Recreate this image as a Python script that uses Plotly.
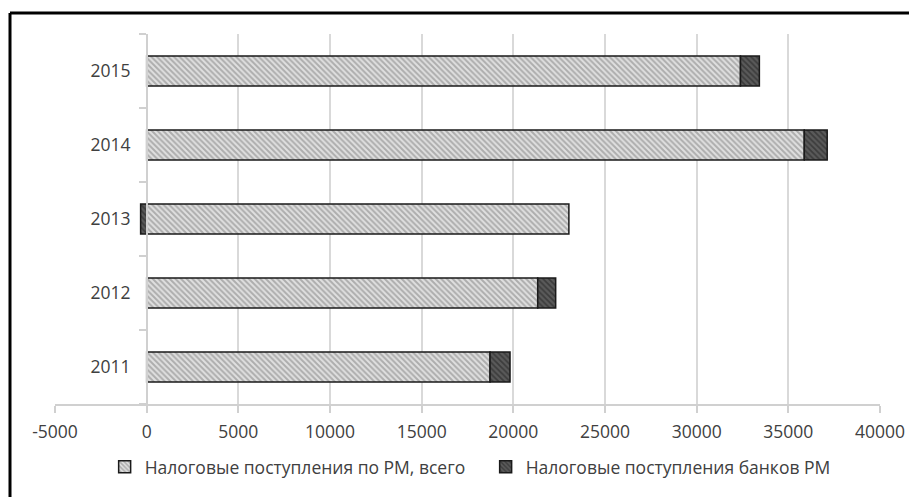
import plotly.graph_objects as go

years = ["2011", "2012", "2013", "2014", "2015"]
total_tax = [18730, 21330, 23030, 35870, 32390]
bank_tax = [1090, 980, -330, 1250, 1030]

x_tick_values = [-5000, 0, 5000, 10000, 15000, 20000, 25000, 30000, 35000, 40000]
x_tick_labels = ["-5000", "0", "5000", "10000", "15000", "20000", "25000", "30000", "35000", "40000"]

name_total = "Налоговые поступления по РМ, всего"
name_bank = "Налоговые поступления банков РМ"

# the page body has an 8px default margin, so the figure is a bit smaller
W, H = 909, 489
ml, mr, mt, mb = 47, 37, 26, 93
pw, ph = W - ml - mr, H - mt - mb

xmin, xmax = -5000, 40000

fig = go.Figure()
fig.add_trace(go.Bar(
    y=years, x=total_tax, orientation="h", name=name_total,
    marker=dict(color="#d0d0d0",
                line=dict(color="#1a1a1a", width=1.5),
                pattern=dict(shape="\\", bgcolor="#e0e0e0", fgcolor="#7a7a7a",
                             size=4, solidity=0.5, fillmode="overlay")),
))
fig.add_trace(go.Bar(
    y=years, x=bank_tax, orientation="h", name=name_bank,
    marker=dict(color="#404040",
                line=dict(color="#1a1a1a", width=1.5),
                pattern=dict(shape="\\", bgcolor="#5a5a5a", fgcolor="#1e1e1e",
                             size=4, solidity=0.45, fillmode="overlay")),
))

font_family = "Open Sans, Lato, sans-serif"
fig.update_layout(
    width=W, height=H,
    margin=dict(l=ml, r=mr, t=mt, b=mb, autoexpand=False),
    barmode="relative",
    bargap=0.595,
    plot_bgcolor="white", paper_bgcolor="white",
    font=dict(family=font_family, size=17.5, color="#404040"),
    showlegend=True,
    legend=dict(orientation="h", x=0.522, xanchor="center", y=-0.17, yanchor="middle",
                font=dict(size=17.5, color="#404040"), traceorder="normal",
                itemwidth=30, entrywidth=336, entrywidthmode="pixels",
                bgcolor="rgba(0,0,0,0)"),
    xaxis=dict(range=[xmin, xmax], tickmode="array",
               tickvals=x_tick_values, ticktext=x_tick_labels,
               showgrid=True, gridcolor="#d9d9d9", gridwidth=1.5,
               zeroline=False, showline=True, linecolor="#d0d0d0", linewidth=1.5,
               ticks="outside", ticklen=7, tickcolor="#d0d0d0", tickwidth=1.5,
               ticklabelstandoff=4,
               tickfont=dict(size=17.5, color="#404040"), fixedrange=True),
    yaxis=dict(anchor="free", position=(0 - xmin) / (xmax - xmin),
               showline=True, linecolor="#d0d0d0", linewidth=1.5,
               ticks="outside", tickson="boundaries", ticklen=7,
               tickcolor="#d0d0d0", tickwidth=1.5,
               showgrid=False, tickfont=dict(size=17.5, color="#404040"),
               ticklabelstandoff=12, fixedrange=True),
    shapes=[
        dict(type="line", xref="paper", yref="paper",
             x0=(2 - ml) / pw, x1=(W + 60 - ml) / pw,
             y0=1 + (mt - 5) / ph, y1=1 + (mt - 5) / ph,
             line=dict(color="black", width=3), layer="above"),
        dict(type="line", xref="paper", yref="paper",
             x0=(2 - ml) / pw, x1=(2 - ml) / pw,
             y0=1 + (mt - 5) / ph, y1=-(H + 60 - mt - ph) / ph,
             line=dict(color="black", width=3), layer="above"),
    ],
)

fig.write_html("out.html")
